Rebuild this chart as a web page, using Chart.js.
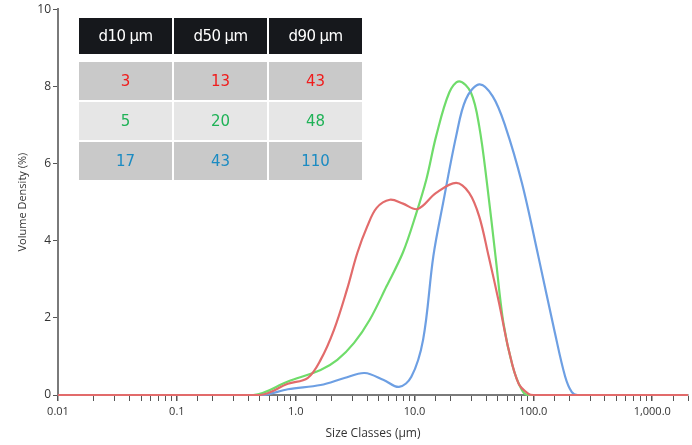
<!DOCTYPE html>
<html>
<head>
<meta charset="utf-8">
<script src="https://cdn.jsdelivr.net/npm/chart.js@4.4.1/dist/chart.umd.min.js"></script>
<style>
  html, body { margin: 0; padding: 0; background: #fff; }
  #wrap { position: relative; width: 692px; height: 445px; }
  #chart { position: absolute; left: 0; top: 0; }
  #stats { position: absolute; left: 77px; top: 18px; border-collapse: separate; border-spacing: 2px 0; font-family: "DejaVu Sans", sans-serif; }
  #stats th { background: #16181c; color: #fff; font-weight: normal; font-size: 15px; height: 36px; width: 93px; padding: 0; letter-spacing: -0.6px; }
  #stats td { text-align: center; font-size: 15px; height: 38px; padding: 0; border-top: 2px solid #fff; }
  #stats tr.gap td { height: 6px; padding: 0; border: 0; background: #fff; }
</style>
</head>
<body>
<div id="wrap">
  <canvas id="chart" width="692" height="445"></canvas>
  <table id="stats"></table>
</div>
<script>
// table data
const tableHeaders = ['d10 µm', 'd50 µm', 'd90 µm'];
const tableRows = [
  ['3', '13', '43'],
  ['5', '20', '48'],
  ['17', '43', '110']
];
const rowText = ['#f01c1c', '#1fb257', '#1b8bc2'];
const rowBg = ['#c9c9c9', '#e6e6e6', '#c9c9c9'];

// curves (size in µm, volume density in %)
const redSizes  = [0.01, 0.5, 0.86, 1.26, 1.62, 2.1, 2.7, 3.3, 4.0, 4.8, 6.2, 8.0, 10.6, 15.2, 22.4, 28.8, 35, 42, 51.5, 62, 75, 91, 100, 2000];
const redValues = [0,    0,   0.29, 0.44, 0.91, 1.69, 2.73, 3.68, 4.37, 4.85, 5.06, 4.96, 4.82, 5.24, 5.5, 5.24, 4.63, 3.6, 2.38, 1.17, 0.3, 0.03, 0, 0];

const greenSizes  = [0.01, 0.44, 0.86, 1.62, 2.24, 3.1, 4.2, 5.8, 8.0, 10.2, 12.6, 15.2, 19.6, 23.7, 29.8, 35, 41, 48, 56, 67, 80, 90, 2000];
const greenValues = [0,    0,    0.35, 0.65, 0.91, 1.35, 1.95, 2.81, 3.7, 4.65, 5.6, 6.71, 7.84, 8.13, 7.84, 6.97, 5.41, 3.6, 1.86, 0.74, 0.13, 0, 0];

const blueSizes  = [0.01, 0.52, 0.86, 1.62, 2.57, 3.8, 5.5, 7.4, 9.4, 11.8, 14.4, 17.4, 22.4, 27, 35, 45.5, 58, 80, 110, 152, 185, 210, 235, 2000];
const blueValues = [0,    0,    0.15, 0.26, 0.44, 0.57, 0.39, 0.21, 0.47, 1.43, 3.6, 4.98, 6.71, 7.66, 8.05, 7.74, 6.97, 5.5, 3.6, 1.6, 0.48, 0.08, 0, 0];

const decadeLabels = { 0.01: '0.01', 0.1: '0.1', 1: '1.0', 10: '10.0', 100: '100.0', 1000: '1,000.0' };

// build table
const table = document.getElementById('stats');
let html = '<tr>' + tableHeaders.map(h => '<th>' + h + '</th>').join('') + '</tr>';
html += '<tr class="gap"><td></td><td></td><td></td></tr>';
tableRows.forEach((r, i) => {
  html += '<tr>' + r.map(v => '<td style="background:' + rowBg[i] + ';color:' + rowText[i] + '">' + v + '</td>').join('') + '</tr>';
});
table.innerHTML = html;

function pts(xs, ys) { return xs.map((x, i) => ({ x: x, y: ys[i] })); }

function isDecade(v) {
  const l = Math.log10(v);
  return Math.abs(l - Math.round(l)) < 1e-9;
}

const ctx = document.getElementById('chart').getContext('2d');
new Chart(ctx, {
  type: 'scatter',
  data: {
    datasets: [
      { data: pts(redSizes, redValues), borderColor: '#e26b6b' },
      { data: pts(blueSizes, blueValues), borderColor: '#6d9fe3' },
      { data: pts(greenSizes, greenValues), borderColor: '#6fdc6a' }
    ].map(d => Object.assign(d, {
      showLine: true, pointRadius: 0, borderWidth: 2.2, tension: 0.35, clip: false
    }))
  },
  options: {
    responsive: false,
    animation: false,
    layout: { padding: { top: 4, right: 0, left: 12, bottom: 0 } },
    plugins: { legend: { display: false }, tooltip: { enabled: false } },
    scales: {
      x: {
        type: 'logarithmic',
        min: 0.01,
        max: 2000,
        afterFit: s => { s.height = 50; },
        border: { color: '#7a7a7a', width: 2 },
        grid: {
          drawOnChartArea: false,
          drawTicks: true,
          tickLength: 6,
          color: '#555',
          lineWidth: c => (c.tick && isDecade(c.tick.value)) ? 1.5 : 1
        },
        ticks: {
          autoSkip: false,
          maxRotation: 0,
          padding: 4,
          color: '#333',
          font: { family: 'Open Sans', size: 11 },
          callback: v => decadeLabels[v] !== undefined && isDecade(v) ? decadeLabels[v] : ''
        },
        title: { display: true, text: 'Size Classes (µm)', color: '#333', font: { family: 'Open Sans', size: 12 }, padding: { top: 2 } }
      },
      y: {
        min: 0,
        max: 10,
        afterFit: s => { s.width = 46; },
        border: { color: '#7a7a7a', width: 2 },
        grid: { drawOnChartArea: false, drawTicks: true, tickLength: 5, color: '#555' },
        ticks: { stepSize: 2, padding: 2, color: '#333', font: { family: 'Open Sans', size: 12 } },
        title: { display: true, text: 'Volume Density (%)', color: '#333', font: { family: 'Open Sans', size: 11 }, padding: { bottom: 2 } }
      }
    }
  }
});
</script>
</body>
</html>
